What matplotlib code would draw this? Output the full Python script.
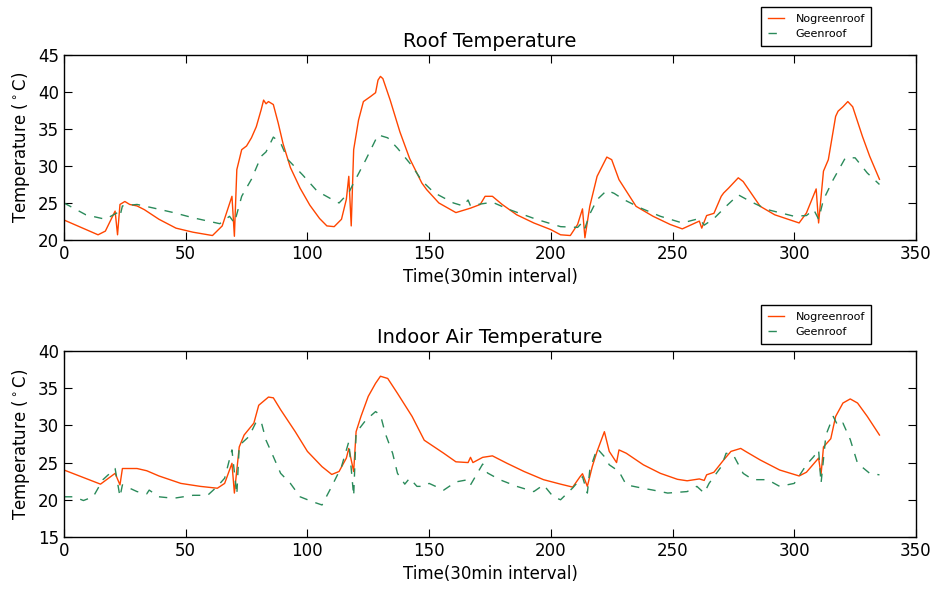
import matplotlib
matplotlib.use("Agg")
import matplotlib.pyplot as plt

# ---- Roof temperature ----
roof_ng_x = [0, 7, 14, 17, 21, 22, 23, 25, 27, 30, 33, 39, 46, 53, 61, 65, 69, 70, 71, 73, 75, 77, 79, 81, 82, 83,
             84, 86, 88, 90, 93, 97, 101, 105, 108, 111, 114, 116, 117, 118, 119, 121, 123, 126, 128, 129, 130, 131,
             134, 138, 142, 147, 149, 154, 161, 167, 171, 173, 176, 180, 186, 193, 200, 204, 208, 211, 213, 214,
             216, 219, 223, 225, 228, 235, 242, 249, 254, 258, 261, 262, 264, 267, 270, 271, 273, 277, 279, 286,
             292, 302, 305, 309, 310, 312, 314, 317, 318, 320, 322, 324, 328, 331, 335]
roof_ng_y = [22.7, 21.7, 20.7, 21.2, 23.9, 20.7, 24.8, 25.2, 24.8, 24.6, 24.1, 22.8, 21.6, 21.05, 20.6, 21.9, 25.9,
             20.5, 29.5, 32.2, 32.7, 33.8, 35.3, 37.6, 38.9, 38.4, 38.7, 38.3, 35.8, 33.0, 29.8, 27.0, 24.7, 22.9,
             21.9, 21.8, 22.8, 25.5, 28.6, 21.9, 32.2, 36.2, 38.7, 39.4, 39.9, 41.6, 42.1, 41.8, 38.9, 34.6, 31.0,
             27.7, 26.8, 25.0, 23.7, 24.3, 24.8, 25.9, 25.9, 24.8, 23.4, 22.3, 21.4, 20.7, 20.6, 22.1, 24.2, 20.3,
             24.55, 28.6, 31.2, 30.85, 28.15, 24.55, 23.2, 22.1, 21.5, 22.1, 22.55, 21.6, 23.3, 23.6, 25.9, 26.35,
             27.0, 28.4, 27.9, 24.55, 23.4, 22.3, 23.65, 26.9, 22.3, 29.3, 30.85, 36.7, 37.4, 38.0, 38.7, 38.0,
             34.0, 31.3, 28.2]

roof_g_x = [0, 9, 17, 22, 23, 24, 30, 37, 45, 53, 64, 68, 70, 71, 73, 77, 81, 83, 86, 89, 92, 98, 104, 110, 113,
            117, 119, 124, 129, 133, 137, 143, 147, 152, 160, 164, 166, 167, 170, 176, 183, 194, 204, 211, 213, 214,
            216, 219, 223, 226, 230, 237, 245, 254, 261, 263, 267, 272, 277, 282, 289, 300, 305, 308, 310, 312,
            316, 321, 325, 330, 335]
roof_g_y = [25.0, 23.4, 22.8, 23.7, 23.2, 24.6, 24.8, 24.3, 23.7, 23.0, 22.2, 23.2, 22.3, 23.5, 25.9, 28.2, 31.3,
            31.9, 33.9, 33.1, 30.85, 28.8, 26.6, 25.5, 25.0, 26.4, 27.7, 30.85, 34.2, 33.8, 32.4, 30.0, 28.0, 26.4,
            25.0, 24.6, 25.4, 24.6, 24.8, 25.1, 24.1, 22.8, 21.8, 21.7, 22.4, 21.6, 23.5, 25.45, 26.7, 26.3, 25.45,
            24.3, 23.2, 22.3, 22.9, 22.0, 22.9, 24.55, 26.1, 25.2, 24.1, 23.2, 23.3, 24.1, 22.8, 25.45, 28.15,
            31.1, 31.1, 29.05, 27.5]

# ---- Indoor air temperature ----
in_ng_x = [0, 15, 21, 23, 24, 30, 34, 39, 48, 56, 63, 66, 69, 70, 72, 74, 78, 80, 84, 86, 89, 95, 100, 106, 110,
           113, 116, 117, 119, 120, 122, 125, 128, 130, 133, 137, 143, 148, 156, 161, 166, 167, 168, 172, 176, 182,
           189, 197, 204, 209, 212, 213, 215, 217, 219, 222, 224, 227, 228, 231, 238, 245, 252, 256, 261, 263, 264,
           267, 271, 274, 278, 280, 286, 294, 302, 305, 310, 311, 312, 315, 317, 320, 323, 326, 330, 335]
in_ng_y = [24.0, 22.1, 23.55, 22.0, 24.2, 24.2, 23.9, 23.2, 22.2, 21.8, 21.55, 22.2, 24.9, 20.9, 27.1, 28.7, 30.3,
           32.7, 33.8, 33.7, 32.1, 29.15, 26.5, 24.45, 23.4, 23.8, 25.6, 26.9, 23.8, 29.15, 31.2, 33.9, 35.65,
           36.6, 36.3, 34.3, 31.2, 28.0, 26.25, 25.1, 25.0, 25.7, 25.0, 25.7, 25.9, 24.9, 23.8, 22.7, 22.1, 21.7,
           23.1, 23.5, 21.8, 24.45, 26.5, 29.15, 26.5, 25.0, 26.7, 26.25, 24.7, 23.55, 22.75, 22.55, 22.8, 22.6,
           23.35, 23.7, 25.35, 26.5, 26.9, 26.5, 25.35, 24.0, 23.2, 23.7, 25.6, 23.35, 27.1, 28.2, 31.2, 33.0,
           33.55, 33.0, 31.2, 28.7]

in_g_x = [0, 4, 8, 12, 16, 21, 23, 24, 30, 34, 35, 39, 45, 53, 59, 63, 66, 69, 71, 72, 76, 79, 81, 83, 86, 89, 93,
          97, 102, 106, 110, 114, 117, 119, 120, 124, 128, 130, 132, 135, 137, 140, 142, 145, 148, 150, 156, 161,
          166, 167, 172, 174, 179, 186, 193, 197, 201, 204, 209, 213, 215, 216, 219, 222, 224, 228, 231, 237, 242,
          248, 256, 260, 263, 265, 270, 272, 275, 279, 283, 289, 294, 300, 305, 308, 310, 311, 313, 316, 318, 320,
          323, 326, 331, 335]
in_g_y = [20.4, 20.4, 19.9, 20.4, 22.7, 24.2, 20.4, 22.0, 21.1, 20.8, 21.3, 20.4, 20.2, 20.6, 20.6, 21.8, 22.9,
          26.7, 20.7, 27.3, 28.5, 30.5, 30.5, 28.0, 25.8, 23.55, 22.2, 20.4, 19.75, 19.3, 21.8, 24.45, 27.8, 20.5,
          29.0, 30.7, 31.85, 31.4, 28.9, 26.25, 23.55, 22.1, 22.9, 21.8, 21.8, 22.2, 21.3, 22.4, 22.7, 22.0, 24.8,
          23.6, 22.7, 21.8, 21.1, 22.0, 20.4, 20.0, 21.6, 23.1, 20.9, 24.0, 26.9, 25.8, 24.7, 23.8, 22.0, 21.6,
          21.3, 20.9, 21.1, 21.8, 20.9, 22.2, 24.45, 26.25, 26.0, 23.55, 22.7, 22.7, 21.8, 22.2, 24.7, 25.8, 26.7,
          22.2, 28.7, 31.2, 29.9, 30.3, 28.1, 24.9, 23.55, 23.35]

labels = ["Nogreenroof", "Geenroof"]
titles = ["Roof Temperature", "Indoor Air Temperature"]
ylims = [(20, 45), (15, 40)]
xticks = [0, 50, 100, 150, 200, 250, 300, 350]

c_red = "#ff4500"
c_green = "#2a8a5a"

plt.rcParams["font.family"] = "DejaVu Sans"
fig = plt.figure(figsize=(9.41, 5.94), dpi=100, facecolor="white")
ax1 = fig.add_axes([0.068, 0.596, 0.9054, 0.3115])
ax2 = fig.add_axes([0.068, 0.096, 0.9054, 0.3132])

series = [(roof_ng_x, roof_ng_y, roof_g_x, roof_g_y), (in_ng_x, in_ng_y, in_g_x, in_g_y)]
leg_tops = [1 - 7 / 594, 1 - 305 / 594]

for ax, (nx, ny, gx, gy), title, yl, lt in zip([ax1, ax2], series, titles, ylims, leg_tops):
    ax.plot(nx, ny, color=c_red, lw=1.0, label=labels[0])
    ax.plot(gx, gy, color=c_green, lw=1.0, ls=(0, (6, 6)), label=labels[1])
    ax.set_xlim(0, 350)
    ax.set_ylim(*yl)
    ax.set_xticks(xticks)
    ax.set_title(title, fontsize=14)
    ax.set_xlabel("Time(30min interval)", fontsize=12)
    ax.set_ylabel("Temperature ($^\\circ$C)", fontsize=12)
    ax.tick_params(direction="in", top=True, right=True, labelsize=12, length=6)
    for s in ax.spines.values():
        s.set_linewidth(1.0)
    leg = fig.legend(handles=ax.get_lines(), loc="upper left", bbox_to_anchor=(761 / 941, lt),
                     borderaxespad=0, fontsize=8, handlelength=1.5, handletextpad=1.0,
                     fancybox=False, edgecolor="black", framealpha=1,
                     borderpad=0.6, labelspacing=0.5)
    leg.get_frame().set_linewidth(1.0)

fig.savefig("out.png", dpi=100, facecolor="white")
